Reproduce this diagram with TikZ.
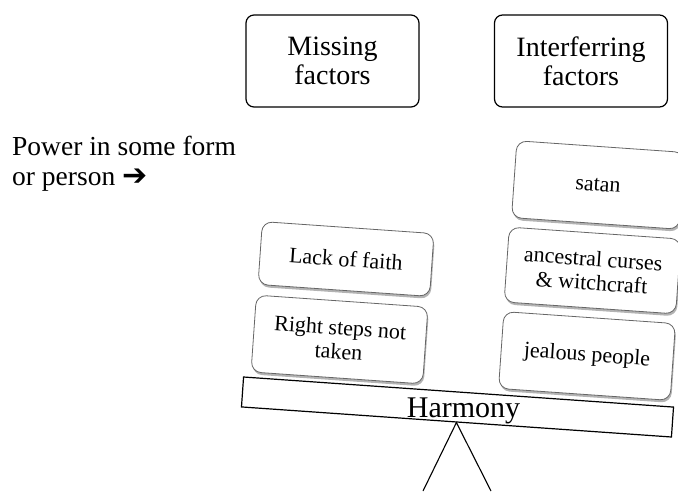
\documentclass[tikz,border=0pt]{standalone}
\usepackage{fontspec}
\setmainfont{Liberation Serif}
\newfontfamily\symfont{DejaVu Sans}
\usetikzlibrary{positioning, shadows}

\begin{document}
\begin{tikzpicture}[
        x=1pt, y=-1pt,
        title/.style={rectangle, rounded corners=8pt, draw=black, line width=1.2pt, align=center, minimum width=173pt, minimum height=92pt, font=\fontsize{28}{29}\selectfont},
        card/.style={rectangle, rounded corners=10pt, draw=black!60, line width=0.8pt, fill=white, align=center, minimum width=172pt, minimum height=77pt, rotate=-4, font=\fontsize{22}{24}\selectfont, drop shadow={shadow xshift=1pt, shadow yshift=-2.5pt, fill=black!50, opacity=0.6}},
        beam/.style={rectangle, draw=black, line width=1.2pt, minimum width=431pt, minimum height=30pt, rotate=-4},
        leg/.style={line width=1.1pt}
    ]
        \useasboundingbox (0,0) rectangle (678,491);
        \clip (0,0) rectangle (678,491);

        \node[title] (missing) at (332.5,61) {Missing\\factors};
        \node[title] (interf) at (581,61) {Interferring\\factors};
        \node[anchor=base west, align=left, inner sep=0pt, font=\fontsize{27.5}{30}\selectfont] (power) at (12,185) {Power in some form\\or person {\symfont\fontsize{30}{30}\selectfont ➔}};

        \node[beam] (beam) at (457.5,407) {};
        \node[anchor=base, inner sep=0pt, font=\fontsize{30}{30}\selectfont] (harmony) at (463.5,417) {Harmony};

        \node[card, minimum height=63pt] (faith) at (346,259) {Lack of faith};
        \node[card] (steps) at (339.5,339.5) {Right steps not\\taken};
        \node[card, minimum width=168pt] (satan) at (598,185) {satan};
        \node[card, minimum height=75pt] (curses) at (592.5,270.5) {ancestral curses\\\& witchcraft};
        \node[card] (jealous) at (587,356) {jealous people};

        \coordinate (footl) at (423,491);
        \coordinate (footr) at (491,491);
        \draw[leg] (footl) -- (beam.south) -- (footr);
    \end{tikzpicture}
\end{document}
